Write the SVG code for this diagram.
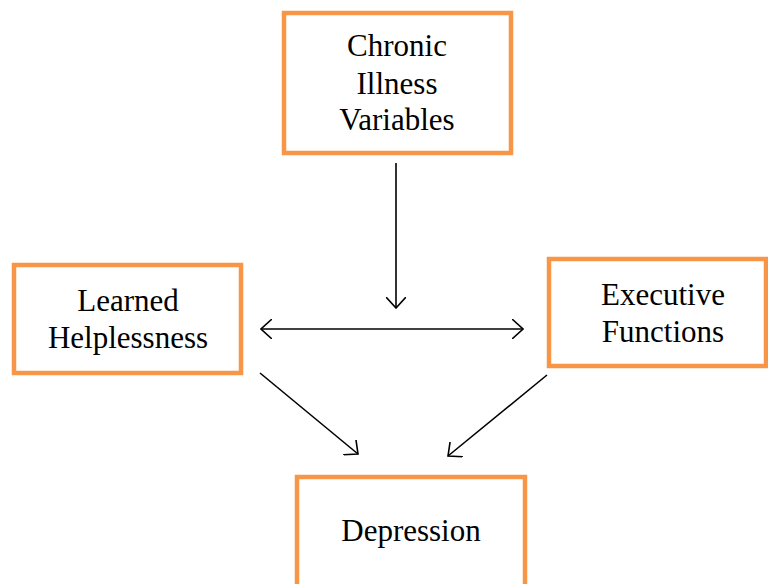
<svg xmlns="http://www.w3.org/2000/svg" width="768" height="584" viewBox="0 0 768 584">
<style>
.box{fill:#fff;stroke:#f79646;stroke-width:4.5}
.t{font-family:"Liberation Serif","Times New Roman",serif;font-size:31px;fill:#000;text-anchor:middle}
.c{stroke:#000;stroke-width:1.6;fill:none}
</style>
<defs>
<marker id="ah" viewBox="0 0 12 20" refX="11" refY="10" markerWidth="12" markerHeight="20" markerUnits="userSpaceOnUse" orient="auto-start-reverse">
<path d="M0,0 L11,10 L0,20" fill="none" stroke="#000" stroke-width="1.6"/>
</marker>
</defs>
<rect width="768" height="584" fill="#fff"/>
<g id="chronic">
<rect class="box" x="284" y="13" width="227" height="140"/>
<text class="t" x="397" y="56">Chronic</text>
<text class="t" x="397" y="94">Illness</text>
<text class="t" x="397" y="130">Variables</text>
</g>
<g id="learned">
<rect class="box" x="14" y="265" width="227" height="108"/>
<text class="t" x="128" y="311">Learned</text>
<text class="t" x="128" y="348">Helplessness</text>
</g>
<g id="executive">
<rect class="box" x="549" y="259" width="217" height="107"/>
<text class="t" x="663" y="305">Executive</text>
<text class="t" x="663" y="342">Functions</text>
</g>
<g id="depression">
<rect class="box" x="297" y="477" width="228" height="112"/>
<text class="t" x="411" y="541">Depression</text>
</g>
<g id="connectors">
<line class="c" x1="396" y1="163" x2="396" y2="308" marker-end="url(#ah)"/>
<line class="c" x1="261" y1="329" x2="523" y2="329" marker-start="url(#ah)" marker-end="url(#ah)"/>
<line class="c" x1="260" y1="373" x2="358" y2="454" marker-end="url(#ah)"/>
<line class="c" x1="547" y1="375" x2="448" y2="456" marker-end="url(#ah)"/>
</g>
</svg>
